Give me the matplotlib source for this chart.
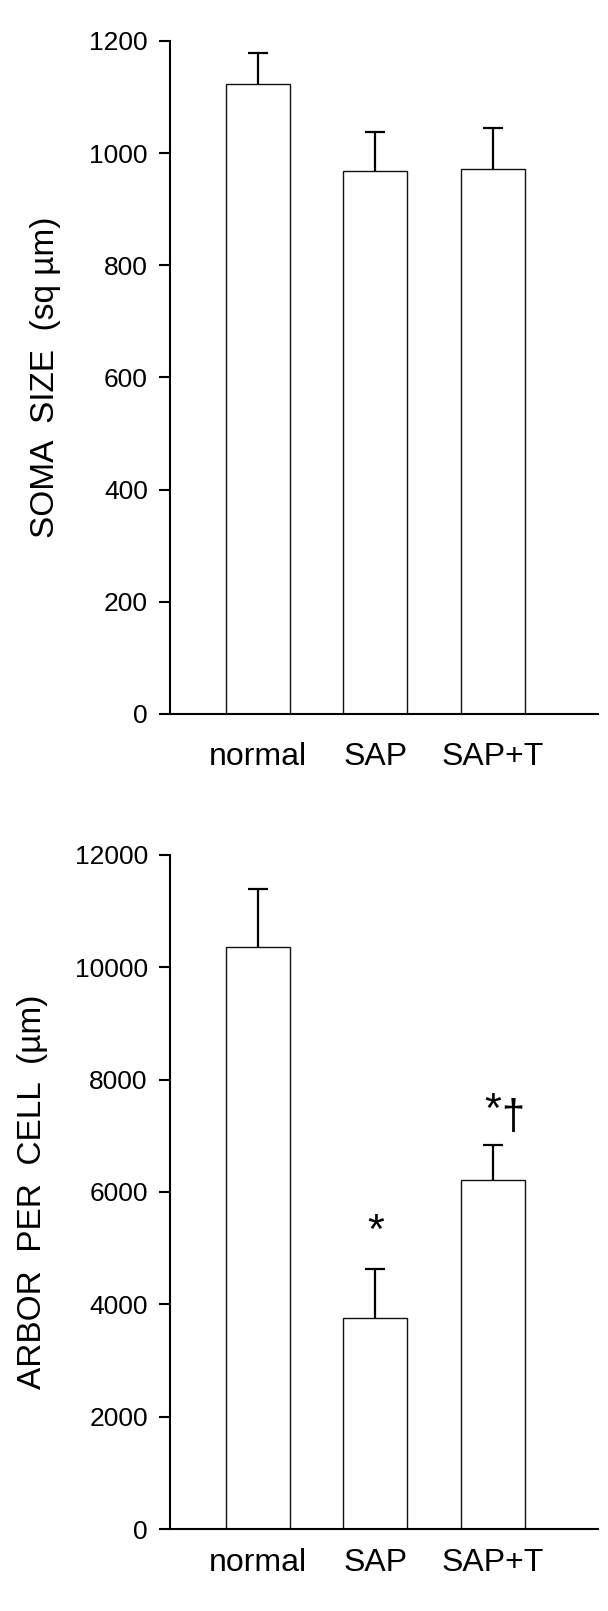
import matplotlib
matplotlib.use("Agg")
import matplotlib.pyplot as plt
import numpy as np

plt.rcParams["font.family"] = ["Liberation Sans", "DejaVu Sans"]

# ======================================================
# Data
# ======================================================
groups = ["normal", "SAP", "SAP+T"]

soma_mean = [1123, 968, 972]
soma_sem = [56, 70, 72]

arbor_mean = [10356, 3756, 6219]
arbor_sem = [1044, 878, 612]

x = np.arange(len(groups))

fig = plt.figure(figsize=(6.08, 16.11), dpi=100)
ax_top = fig.add_axes([0.2796, 0.5568, 0.704, 0.4178])
ax_bot = fig.add_axes([0.2796, 0.0509, 0.704, 0.4184])


def bar_panel(ax, means, sems, ylim, ticks, ylabel, label_pad, ylab_size, ylab_pad):
    ax.bar(x, means, width=0.545, color="white", edgecolor="#111111",
           linewidth=1.0, zorder=2)
    # upper error bars only (hide the lower cap)
    _, caps, _ = ax.errorbar(x, means, yerr=[np.zeros(len(sems)), sems],
                             fmt="none", ecolor="black", elinewidth=1.6,
                             capsize=7.5, capthick=1.6, zorder=3)
    caps[0].set_visible(False)

    ax.set_xlim(-0.746, 2.896)
    ax.set_ylim(*ylim)
    ax.set_yticks(ticks)
    ax.set_xticks(x)
    ax.set_xticklabels(groups, fontsize=23)
    ax.tick_params(axis="x", length=0, pad=label_pad)
    ax.tick_params(axis="y", length=8, width=1.5, labelsize=19, pad=8,
                   direction="out")

    for side in ("top", "right"):
        ax.spines[side].set_visible(False)
    for side in ("left", "bottom"):
        ax.spines[side].set_linewidth(1.5)

    ax.set_ylabel(ylabel, fontsize=ylab_size, labelpad=ylab_pad)


# ======================================================
# Top: soma size
# ======================================================
bar_panel(ax_top, soma_mean, soma_sem, (0, 1200),
          np.arange(0, 1201, 200), "SOMA  SIZE  (sq \u00b5m)", 20, 24, 20)

# ======================================================
# Bottom: arbor per cell
# ======================================================
bar_panel(ax_bot, arbor_mean, arbor_sem, (0, 12000),
          np.arange(0, 12001, 2000), "ARBOR  PER  CELL  (\u00b5m)", 14, 24, 19)

# significance marks: * vs normal, dagger vs SAP
star_groups = [1, 2]
star_offsets = [(0, 18.5), (0, 16.7)]
for i, off in zip(star_groups, star_offsets):
    ax_bot.annotate("*", xy=(x[i], arbor_mean[i] + arbor_sem[i]),
                    xytext=off, textcoords="offset points",
                    ha="center", va="baseline", fontsize=31)

ax_bot.annotate("\u2020", xy=(x[2], arbor_mean[2] + arbor_sem[2]),
                xytext=(14.6, 11.5), textcoords="offset points",
                ha="center", va="baseline", fontsize=30)

fig.savefig("out.png", dpi=100)
